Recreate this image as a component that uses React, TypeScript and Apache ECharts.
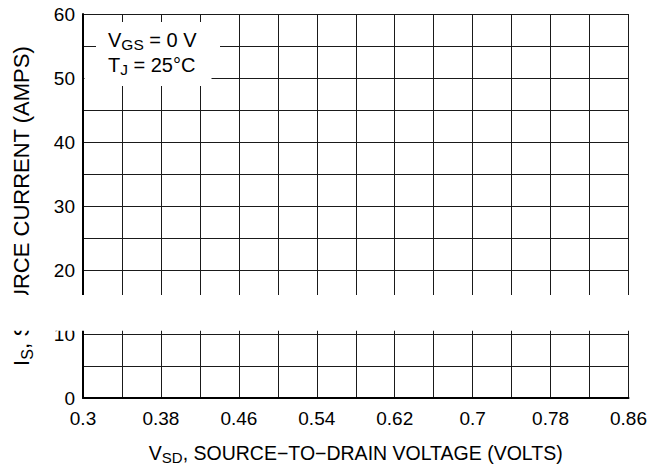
import React, { useEffect, useRef } from "react";
import * as echarts from "echarts";

const xMin = 0.3;
const xMax = 0.86;
const xStep = 0.08;
const yMin = 0;
const yMax = 60;
const yStep = 10;
const breakRange = [10.5, 16.1];
const xTickLabels = ["0.3", "0.38", "0.46", "0.54", "0.62", "0.7", "0.78", "0.86"];
const seriesData: number[][] = [];

const FONT = '"Liberation Sans", Arial, Helvetica, sans-serif';
const INK = "#000";
const GRID = "#1a1a1a";

export default function App() {
  const ref = useRef<HTMLDivElement>(null);
  useEffect(() => {
    if (!ref.current) return;
    const chart = echarts.init(ref.current, undefined, { renderer: "svg" });
    const rich = {
      n: { fontSize: 20, fontFamily: FONT, color: INK, lineHeight: 24, verticalAlign: "middle" },
      s: { fontSize: 15.5, fontFamily: FONT, color: INK, lineHeight: 16, verticalAlign: "bottom" },
    };
    const richX = {
      n: { fontSize: 19.5, fontFamily: FONT, color: INK, lineHeight: 24, verticalAlign: "middle" },
      s: { fontSize: 15, fontFamily: FONT, color: INK, lineHeight: 16, verticalAlign: "bottom" },
    };
    const richY = {
      n: { fontSize: 22, fontFamily: FONT, color: INK, lineHeight: 27, verticalAlign: "middle" },
      s: { fontSize: 16, fontFamily: FONT, color: INK, lineHeight: 18, verticalAlign: "bottom" },
    };
    chart.setOption({
      animation: false,
      backgroundColor: "#fff",
      grid: { left: 83, right: 20, top: 14, bottom: 72 },
      xAxis: {
        type: "value",
        min: xMin,
        max: xMax,
        interval: xStep,
        name: "{n|V}{s|SD}{n|, SOURCE\u2212TO\u2212DRAIN VOLTAGE (VOLTS)}",
        nameLocation: "middle",
        nameGap: 43,
        nameTextStyle: { rich: richX },
        axisLine: { show: true, onZero: false, lineStyle: { color: INK, width: 2 } },
        axisTick: { show: false },
        axisLabel: {
          margin: 11,
          fontSize: 19,
          fontFamily: FONT,
          color: INK,
          formatter: (v: number) => {
            const i = Math.round((v - xMin) / xStep);
            return xTickLabels[i] ?? "";
          },
        },
        splitLine: { show: true, lineStyle: { color: GRID, width: 1 } },
        minorTick: { show: false, splitNumber: 2 },
        minorSplitLine: { show: true, lineStyle: { color: GRID, width: 1 } },
      },
      yAxis: {
        type: "value",
        min: yMin,
        max: yMax,
        interval: yStep,
        name: "{n|I}{s|S}{n|, SOURCE CURRENT (AMPS)}",
        nameLocation: "middle",
        nameRotate: 90,
        nameGap: 48,
        nameTextStyle: { rich: richY },
        axisLine: { show: true, onZero: false, lineStyle: { color: INK, width: 2 } },
        axisTick: { show: false },
        axisLabel: { margin: 8, fontSize: 19, fontFamily: FONT, color: INK },
        splitLine: { show: true, lineStyle: { color: GRID, width: 1 } },
        minorTick: { show: false, splitNumber: 2 },
        minorSplitLine: { show: true, lineStyle: { color: GRID, width: 1 } },
      },
      series: [{ type: "line", data: seriesData, symbol: "none" }],
    });

    const pTop = chart.convertToPixel({ gridIndex: 0 }, [xMin, breakRange[1]]) as number[];
    const pBot = chart.convertToPixel({ gridIndex: 0 }, [xMax, breakRange[0]]) as number[];
    const g0 = chart.convertToPixel({ gridIndex: 0 }, [xMin, yMax]) as number[];

    chart.setOption({
      graphic: [
        {
          type: "rect",
          z: 100,
          shape: { x: 0, y: pTop[1], width: 650, height: pBot[1] - pTop[1] },
          style: { fill: "#fff" },
        },
        {
          type: "rect",
          z: 100,
          shape: { x: g0[0] + 13, y: g0[1] + 8, width: 124, height: 36 },
          style: { fill: "#fff" },
        },
        {
          type: "rect",
          z: 100,
          shape: { x: g0[0] + 1.5, y: g0[1] + 42, width: 127, height: 30 },
          style: { fill: "#fff" },
        },
        {
          type: "text",
          z: 101,
          x: g0[0] + 25,
          y: g0[1] + 14,
          style: { text: "{n|V}{s|GS}{n| = 0 V}", rich },
        },
        {
          type: "text",
          z: 101,
          x: g0[0] + 25,
          y: g0[1] + 39,
          style: { text: "{n|T}{s|J}{n| = 25\u00b0C}", rich },
        },
      ],
    });
    return () => chart.dispose();
  }, []);
  return <div ref={ref} style={{ width: 650, height: 470, position: "absolute", left: 0, top: 0 }} />;
}
